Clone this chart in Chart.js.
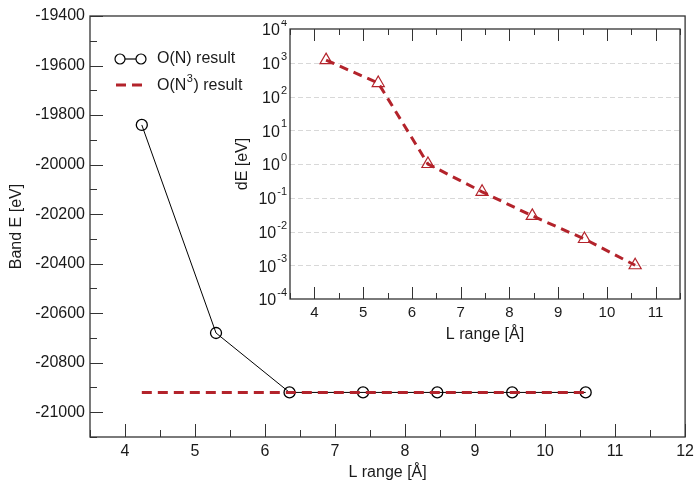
<!DOCTYPE html>
<html><head><meta charset="utf-8">
<script src="https://cdn.jsdelivr.net/npm/chart.js@4/dist/chart.umd.min.js"></script>
<style>
html,body{margin:0;padding:0;background:#fff;}
#wrap{position:relative;width:699px;height:481px;overflow:hidden;}
#main{position:absolute;left:0;top:0;}
#inset{position:absolute;left:220px;top:20px;}
</style></head><body>
<div id="wrap"><canvas id="main" width="699" height="481"></canvas><canvas id="inset" width="470" height="325"></canvas></div>
<script>
// ---- data ----
const lengthON  = [4.24, 5.30, 6.35, 7.40, 8.46, 9.53, 10.58];
const bandON    = [-19840, -20680, -20920, -20920, -20920, -20920, -20920];
const lengthON3 = [4.24, 10.58];
const bandON3   = [-20920, -20920];
const lengthInset = [4.24, 5.31, 6.33, 7.44, 8.47, 9.54, 10.58];
const dEInset     = [1200, 250, 1.0, 0.15, 0.029, 0.006, 0.001];
const insetExponents = [-4, -3, -2, -1, 0, 1, 2, 3, 4];
const seriesNames = ['O(N) result', 'O(N', ') result'];
const mainXTitle = 'L range [Å]';
const mainYTitle = 'Band E [eV]';
const insetXTitle = 'L range [Å]';
const insetYTitle = 'dE [eV]';

const FONT = '"Liberation Sans", Arial, Helvetica, sans-serif';
const TXT = '#1a1a1a';
const RED = '#b3232b';
Chart.defaults.font.family = FONT;
Chart.defaults.color = TXT;

function toPts(xs, ys){ return xs.map((x,i)=>({x:x, y:ys[i]})); }

function inwardTicks(chart, id, side, isMajor, majLen, minLen){
  const s = chart.scales[id], ctx = chart.ctx, a = chart.chartArea;
  ctx.save(); ctx.strokeStyle = '#333'; ctx.lineWidth = 1;
  s.ticks.forEach(t=>{
    const len = isMajor(t.value) ? majLen : minLen;
    const p = Math.round(s.getPixelForValue(t.value)) + 0.5;
    ctx.beginPath();
    if (side==='bottom'){ ctx.moveTo(p, a.bottom); ctx.lineTo(p, a.bottom-len); }
    else if (side==='top'){ ctx.moveTo(p, a.top); ctx.lineTo(p, a.top+len); }
    else if (side==='left'){ ctx.moveTo(a.left, p); ctx.lineTo(a.left+len, p); }
    ctx.stroke();
  });
  ctx.restore();
}
function box(chart){
  const ctx = chart.ctx, a = chart.chartArea;
  ctx.save(); ctx.strokeStyle = '#333'; ctx.lineWidth = 1.3;
  ctx.strokeRect(a.left, a.top, a.right-a.left, a.bottom-a.top);
  ctx.restore();
}

const mainPlugin = {
  id:'mainDeco',
  afterDraw(chart){
    box(chart);
    inwardTicks(chart,'x','bottom', v=>Number.isInteger(v), 13, 7);
    inwardTicks(chart,'y','left', v=>v%200===0, 13, 7);
    // legend
    const ctx = chart.ctx, a = chart.chartArea;
    const lx = a.left + 30, y1 = a.top + 43, y2 = a.top + 69;
    ctx.save();
    ctx.strokeStyle = '#000'; ctx.lineWidth = 1.2;
    ctx.beginPath(); ctx.moveTo(lx+5, y1); ctx.lineTo(lx+16, y1); ctx.stroke();
    [lx, lx+21].forEach(cx=>{ ctx.beginPath(); ctx.arc(cx, y1, 5, 0, Math.PI*2); ctx.stroke(); });
    ctx.strokeStyle = RED; ctx.lineWidth = 3; ctx.setLineDash([10,6]);
    ctx.beginPath(); ctx.moveTo(lx-4, y2); ctx.lineTo(lx+26, y2); ctx.stroke();
    ctx.setLineDash([]);
    ctx.fillStyle = TXT; ctx.textBaseline = 'middle'; ctx.textAlign = 'left';
    ctx.font = '16px ' + FONT;
    const tx = a.left + 67;
    ctx.fillText(seriesNames[0], tx, y1);
    ctx.fillText(seriesNames[1], tx, y2 + 1);
    const w1 = ctx.measureText(seriesNames[1]).width;
    ctx.font = '11px ' + FONT;
    ctx.fillText('3', tx + w1 + 0.5, y2 - 6);
    const w2 = ctx.measureText('3').width;
    ctx.font = '16px ' + FONT;
    ctx.fillText(seriesNames[2], tx + w1 + w2 + 1, y2 + 1);
    ctx.restore();
  }
};

new Chart(document.getElementById('main'), {
  type:'scatter',
  data:{ datasets:[
    { label:'O(N³) result', data: toPts(lengthON3, bandON3), showLine:true,
      borderColor:RED, borderWidth:3, borderDash:[10,6], pointRadius:0 },
    { label:'O(N) result', data: toPts(lengthON, bandON), showLine:true,
      borderColor:'#000', borderWidth:1, pointRadius:5.5, pointBorderWidth:1.3,
      pointBorderColor:'#000', pointBackgroundColor:'rgba(0,0,0,0)' }
  ]},
  options:{
    responsive:false, animation:false, devicePixelRatio:1,
    layout:{ padding:{ top:16, right:10, left:0, bottom:0 } },
    plugins:{ legend:{display:false}, tooltip:{enabled:false} },
    scales:{
      x:{ type:'linear', min:3.5, max:12,
        grid:{display:false, drawTicks:false}, border:{display:false},
        ticks:{ stepSize:0.5, autoSkip:false, maxRotation:0, padding:5, color:TXT,
          font:{size:16}, callback:v=>Number.isInteger(v)?String(v):'' },
        title:{ display:true, text:mainXTitle, color:TXT, font:{size:16, lineHeight:1}, padding:{top:0,bottom:0} },
        afterFit:s=>{ s.height = 44; } },
      y:{ type:'linear', min:-21100, max:-19400,
        grid:{display:false, drawTicks:false}, border:{display:false},
        ticks:{ stepSize:100, autoSkip:false, padding:5, color:TXT,
          font:{size:16}, callback:v=>(v%200===0)?String(v):'' },
        title:{ display:true, text:mainYTitle, color:TXT, font:{size:16, lineHeight:1}, padding:{top:9,bottom:0} },
        afterFit:s=>{ s.width = 90; } }
    }
  },
  plugins:[mainPlugin]
});

const insetPlugin = {
  id:'insetDeco',
  beforeDatasetsDraw(chart){
    const ctx = chart.ctx, a = chart.chartArea, s = chart.scales.y;
    ctx.save(); ctx.strokeStyle = '#d8d8d8'; ctx.lineWidth = 1; ctx.setLineDash([5,3]);
    insetExponents.forEach(e=>{
      if (e===-4 || e===4) return;
      const p = Math.round(s.getPixelForValue(Math.pow(10,e))) + 0.5;
      ctx.beginPath(); ctx.moveTo(a.left, p); ctx.lineTo(a.right, p); ctx.stroke();
    });
    ctx.restore();
  },
  afterDraw(chart){
    box(chart);
    inwardTicks(chart,'x','bottom', v=>Number.isInteger(v), 12, 6);
    inwardTicks(chart,'x','top', v=>Number.isInteger(v), 12, 6);
    const ctx = chart.ctx, a = chart.chartArea, s = chart.scales.y;
    ctx.save(); ctx.fillStyle = TXT; ctx.textBaseline = 'middle';
    insetExponents.forEach(e=>{
      const p = s.getPixelForValue(Math.pow(10,e));
      const ex = String(e);
      ctx.font = '11px ' + FONT;
      const we = ctx.measureText(ex).width;
      const right = a.left - 3;
      ctx.textAlign = 'left';
      ctx.fillText(ex, right - we, p - 6);
      ctx.font = '16px ' + FONT;
      ctx.textAlign = 'right';
      ctx.fillText('10', right - we - 1, p + 2);
    });
    ctx.restore();
  }
};

new Chart(document.getElementById('inset'), {
  type:'scatter',
  data:{ datasets:[
    { label:'dE', data: toPts(lengthInset, dEInset), showLine:true,
      borderColor:RED, borderWidth:3, borderDash:[9,6],
      pointStyle:'triangle', pointRadius:7, pointBorderWidth:1.2,
      pointBorderColor:RED, pointBackgroundColor:'rgba(255,255,255,0)' }
  ]},
  options:{
    responsive:false, animation:false, devicePixelRatio:1,
    layout:{ padding:{ top:9, right:10, left:0, bottom:0 } },
    plugins:{ legend:{display:false}, tooltip:{enabled:false} },
    scales:{
      x:{ type:'linear', min:3.5, max:11.5,
        grid:{display:false, drawTicks:false}, border:{display:false},
        ticks:{ stepSize:0.5, autoSkip:false, maxRotation:0, padding:5, color:TXT,
          font:{size:15}, callback:v=>Number.isInteger(v)?String(v):'' },
        title:{ display:true, text:insetXTitle, color:TXT, font:{size:16, lineHeight:1}, padding:{top:0,bottom:2} },
        afterFit:s=>{ s.height = 46; } },
      y:{ type:'logarithmic', min:1e-4, max:1e4,
        grid:{display:false, drawTicks:false}, border:{display:false},
        ticks:{ display:false },
        afterBuildTicks:s=>{ s.ticks = insetExponents.map(e=>({value:Math.pow(10,e)})); },
        title:{ display:true, text:insetYTitle, color:TXT, font:{size:16, lineHeight:1}, padding:{top:15,bottom:0} },
        afterFit:s=>{ s.width = 70; } }
    }
  },
  plugins:[insetPlugin]
});
</script>
</body></html>
